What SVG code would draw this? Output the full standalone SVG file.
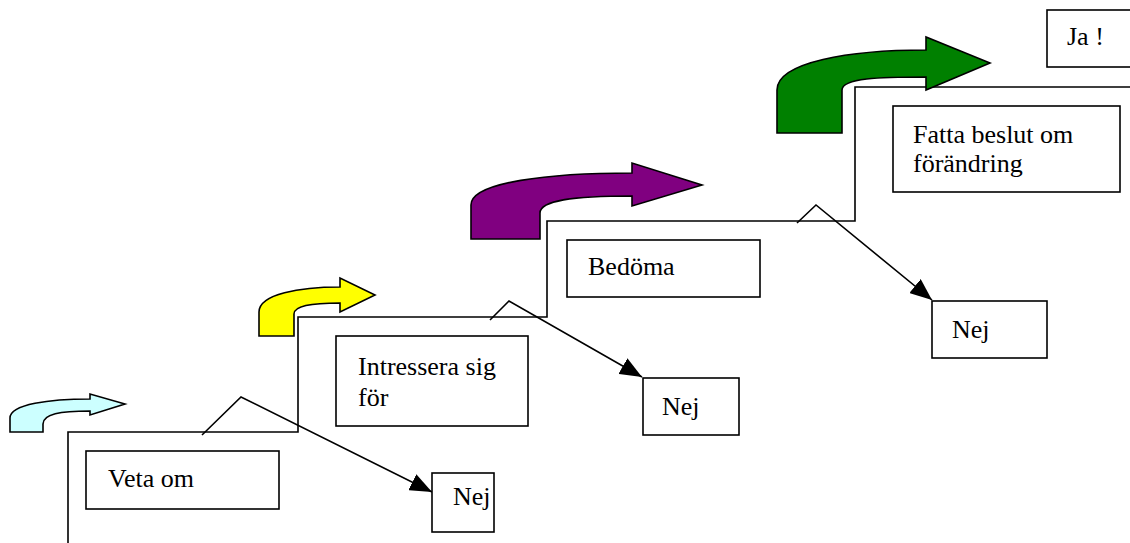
<svg xmlns="http://www.w3.org/2000/svg" width="1130" height="543" viewBox="0 0 1130 543">
<style>
.box{fill:#fff;stroke:#000;stroke-width:1.6}
.lbl{font-family:"Liberation Serif","Times New Roman",serif;font-size:26px;fill:#000}
.bent{stroke:#000;stroke-width:1.6;stroke-linejoin:miter}
.line{fill:none;stroke:#000;stroke-width:1.6}
</style>
<defs>
<marker id="ah" markerUnits="userSpaceOnUse" markerWidth="24" markerHeight="18" refX="22" refY="9" orient="auto">
<path d="M0,0 L22,9 L0,18 Z" fill="#000"/>
</marker>
</defs>
<rect width="1130" height="543" fill="#fff"/>
<g id="staircase">
<path class="line" d="M68,543 V432 H298 V317 H547 V221 H855 V87 H1130"/>
</g>
<g id="arrow-cyan">
<path class="bent" fill="#CCFFFF" d="M10,432 V418 C10,404 50,399 90,399 V394 L125,404 L90,415 V411 C60,411 43,414 43,424 V432 Z"/>
</g>
<g id="arrow-yellow">
<path class="bent" fill="#FFFF00" d="M259,336 V312 C259,294 300,287 340,287 V278 L375,295 L340,312 V303 C310,303 294,306 294,314 V336 Z"/>
</g>
<g id="arrow-purple">
<path class="bent" fill="#800080" d="M471,239 V205 C471,182 550,173 632,173 V163 L702,185 L632,206 V196 C575,196 540,200 540,213 V239 Z"/>
</g>
<g id="arrow-green">
<path class="bent" fill="#008000" d="M777,133 V90 C777,62 850,50 926,50 V37 L990,63 L926,90 V77 C880,77 842,78 842,90 V133 Z"/>
</g>
<g id="connectors">
<polyline class="line" points="202,435 241,397 432,492" marker-end="url(#ah)"/>
<polyline class="line" points="490,320 509,301 642,377" marker-end="url(#ah)"/>
<polyline class="line" points="797,223 816,205 932,300" marker-end="url(#ah)"/>
</g>
<g id="veta-om">
<rect class="box" x="86" y="451" width="193" height="58"/>
<text class="lbl" x="108" y="487">Veta om</text>
</g>
<g id="nej-1">
<rect class="box" x="432" y="473" width="62" height="59"/>
<text class="lbl" x="453" y="505">Nej</text>
</g>
<g id="intressera">
<rect class="box" x="336" y="336" width="192" height="90"/>
<text class="lbl" x="358" y="375">Intressera sig</text>
<text class="lbl" x="358" y="406">för</text>
</g>
<g id="nej-2">
<rect class="box" x="643" y="378" width="96" height="57"/>
<text class="lbl" x="662" y="415">Nej</text>
</g>
<g id="bedoma">
<rect class="box" x="567" y="240" width="193" height="57"/>
<text class="lbl" x="588" y="275">Bedöma</text>
</g>
<g id="nej-3">
<rect class="box" x="932" y="301" width="115" height="57"/>
<text class="lbl" x="952" y="338">Nej</text>
</g>
<g id="fatta-beslut">
<rect class="box" x="893" y="106" width="227" height="86"/>
<text class="lbl" x="913" y="143">Fatta beslut om</text>
<text class="lbl" x="913" y="172">förändring</text>
</g>
<g id="ja">
<rect class="box" x="1047" y="10" width="100" height="57"/>
<text class="lbl" x="1067" y="45">Ja !</text>
</g>
</svg>
